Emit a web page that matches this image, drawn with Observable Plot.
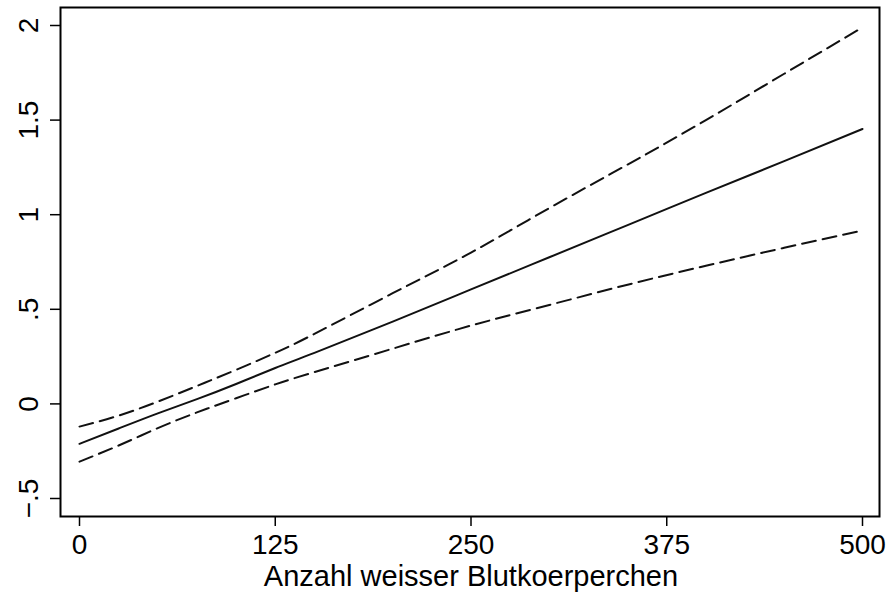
<!DOCTYPE html>
<html>
<head>
<meta charset="utf-8">
<script src="https://cdn.jsdelivr.net/npm/d3@7"></script>
<script src="https://cdn.jsdelivr.net/npm/@observablehq/plot@0.6"></script>
<style>
  html, body { margin: 0; padding: 0; background: white; }
</style>
</head>
<body>
<div id="chart"></div>
<script>
const xValues = [0, 25, 50, 75, 100, 125, 150, 200, 250, 300, 350, 400, 450, 500];
const fitValues = [-0.211, -0.13, -0.05, 0.025, 0.105, 0.19, 0.27, 0.435, 0.605, 0.775, 0.945, 1.115, 1.283, 1.453];
const upperValues = [-0.12, -0.062, 0.012, 0.095, 0.18, 0.27, 0.37, 0.585, 0.80, 1.035, 1.265, 1.50, 1.745, 1.99];
const lowerValues = [-0.305, -0.22, -0.128, -0.045, 0.03, 0.103, 0.168, 0.292, 0.414, 0.523, 0.63, 0.73, 0.825, 0.916];

const xTicks = [0, 125, 250, 375, 500];
const yTicks = [-0.5, 0, 0.5, 1, 1.5, 2];
const yTickLabels = ["\u2212.5", "0", ".5", "1", "1.5", "2"];
const xTitle = "Anzahl weisser Blutkoerperchen";

const fit = xValues.map((x, i) => ({x, y: fitValues[i]}));
const upper = xValues.map((x, i) => ({x, y: upperValues[i]}));
const lower = xValues.map((x, i) => ({x, y: lowerValues[i]}));
const yLab = yTicks.map((v, i) => ({v, t: yTickLabels[i]}));

const chart = Plot.plot({
  width: 888,
  height: 597,
  marginLeft: 79,
  marginRight: 26,
  marginTop: 25,
  marginBottom: 99,
  x: {domain: [0, 500]},
  y: {domain: [-0.5, 2]},
  style: {fontFamily: "'Liberation Sans', Arial, Helvetica, sans-serif", fontSize: "28px", color: "black", background: "white"},
  marks: [
    Plot.frame({insetLeft: -19, insetRight: -17, insetTop: -18, insetBottom: -18, stroke: "black", strokeWidth: 2}),
    Plot.axisX({ticks: xTicks, tickSize: 10, tickPadding: 8, dy: 18, label: null, fontSize: 28, strokeWidth: 1.5, tickFormat: d => String(d)}),
    Plot.axisY({ticks: yTicks, tickSize: 10, dx: -19, label: null, tickFormat: () => "", strokeWidth: 1.5}),
    Plot.text(yLab, {y: "v", text: "t", frameAnchor: "left", dx: -42, rotate: -90, lineAnchor: "bottom", textAnchor: "middle", fontSize: 28, fill: "black"}),
    Plot.text([xTitle], {text: d => d, frameAnchor: "bottom", dy: 87, lineAnchor: "bottom", fontSize: 29, fill: "black"}),
    Plot.line(upper, {x: "x", y: "y", stroke: "#111", strokeWidth: 2, strokeDasharray: "14,7", curve: "natural"}),
    Plot.line(lower, {x: "x", y: "y", stroke: "#111", strokeWidth: 2, strokeDasharray: "14,7", curve: "natural"}),
    Plot.line(fit, {x: "x", y: "y", stroke: "#111", strokeWidth: 2, curve: "natural"})
  ]
});
document.getElementById("chart").appendChild(chart);
</script>
</body>
</html>
